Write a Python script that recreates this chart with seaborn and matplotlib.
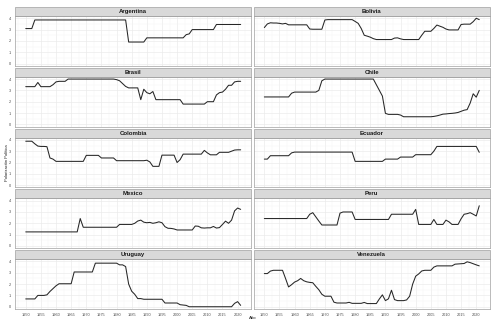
import numpy as np
import pandas as pd
import matplotlib
matplotlib.use('Agg')
import matplotlib.pyplot as plt
import seaborn as sns
from matplotlib.patches import Rectangle
from matplotlib.ticker import MultipleLocator

years = list(range(1950, 2022))
countries = ['Argentina', 'Bolivia', 'Brasil', 'Chile', 'Colombia',
             'Ecuador', 'Mexico', 'Peru', 'Uruguay', 'Venezuela']

argentina = [3.09, 3.09, 3.09,
             3.85, 3.85, 3.85, 3.85, 3.85, 3.85, 3.85, 3.85, 3.85, 3.85,
             3.85, 3.85, 3.85, 3.85, 3.85, 3.85, 3.85, 3.85, 3.85, 3.85,
             3.85, 3.85, 3.85, 3.85, 3.85, 3.85, 3.85, 3.85, 3.85, 3.85, 3.85,
             1.9, 1.9, 1.9, 1.9, 1.9, 1.9,
             2.27, 2.27, 2.27, 2.27, 2.27, 2.27, 2.27, 2.27, 2.27, 2.27, 2.27, 2.27, 2.27,
             2.55, 2.62,
             3.0, 3.0, 3.0, 3.0, 3.0, 3.0, 3.0, 3.0,
             3.45, 3.45, 3.45, 3.45, 3.45, 3.45, 3.45, 3.45, 3.45]

bolivia = [3.18, 3.5, 3.6, 3.58, 3.58, 3.55, 3.5, 3.55, 3.42,
           3.42, 3.42, 3.42, 3.42, 3.42, 3.42,
           3.05, 3.03, 3.03, 3.03, 3.03,
           3.85, 3.88, 3.88, 3.88, 3.88, 3.88, 3.88, 3.88, 3.88, 3.88,
           3.72, 3.55, 3.1, 2.5, 2.42, 2.33, 2.2,
           2.12, 2.12, 2.12, 2.12, 2.12, 2.12,
           2.25, 2.27, 2.18,
           2.12, 2.12, 2.12, 2.12, 2.12, 2.12,
           2.5, 2.85, 2.85, 2.85,
           3.1, 3.4, 3.3, 3.2, 3.05,
           2.97, 2.97, 2.97, 2.97,
           3.45, 3.48, 3.48, 3.48,
           3.7, 4.0, 3.88]

brasil = [3.33, 3.33, 3.33, 3.33, 3.7, 3.33, 3.33, 3.33, 3.33,
          3.5, 3.75, 3.8, 3.8, 3.8,
          4.0, 4.0, 4.0, 4.0, 4.0, 4.0, 4.0, 4.0, 4.0, 4.0, 4.0, 4.0, 4.0, 4.0, 4.0, 4.0,
          3.95, 3.85, 3.6, 3.35,
          3.22, 3.22, 3.22, 3.22,
          2.18, 3.1, 2.8, 2.7, 2.9,
          2.18, 2.18, 2.18, 2.18, 2.18, 2.18, 2.18, 2.18, 2.18,
          1.79, 1.79, 1.79, 1.79, 1.79, 1.79, 1.79, 1.79,
          2.0, 2.0, 2.0,
          2.6, 2.8, 2.85, 3.1, 3.45, 3.45, 3.75, 3.8, 3.8]

chile = [2.42, 2.42, 2.42, 2.42, 2.42, 2.42, 2.42, 2.42, 2.42,
         2.75,
         2.85, 2.85, 2.85, 2.85, 2.85, 2.85, 2.85, 2.85,
         3.0, 3.85,
         4.0, 4.0, 4.0, 4.0, 4.0, 4.0, 4.0, 4.0, 4.0, 4.0, 4.0, 4.0, 4.0, 4.0, 4.0, 4.0, 4.0,
         3.5, 3.0, 2.5,
         0.97, 0.88, 0.88, 0.88, 0.88, 0.82,
         0.67, 0.67, 0.67, 0.67, 0.67, 0.67, 0.67, 0.67, 0.67, 0.67,
         0.7, 0.75, 0.82, 0.9, 0.92, 0.95, 0.97, 1.0, 1.05, 1.15, 1.25, 1.3,
         1.88, 2.7, 2.4, 3.0]

colombia = [3.88, 3.88, 3.88, 3.65, 3.45, 3.42, 3.42, 3.4, 2.4, 2.3,
            2.1, 2.1, 2.1, 2.1, 2.1, 2.1, 2.1, 2.1, 2.1, 2.1,
            2.63, 2.63, 2.63, 2.63, 2.63,
            2.4, 2.4, 2.4, 2.4, 2.4,
            2.16, 2.16, 2.16, 2.16, 2.16, 2.16, 2.16, 2.16, 2.16, 2.16, 2.2,
            2.05, 1.66, 1.66, 1.66,
            2.65, 2.65, 2.65, 2.65, 2.65,
            2.0, 2.25,
            2.74, 2.74, 2.74, 2.74, 2.74, 2.74, 2.74,
            3.07, 2.85, 2.68, 2.68, 2.68,
            2.9, 2.9, 2.9, 2.9,
            3.0, 3.1, 3.12, 3.12]

ecuador = [2.3, 2.3,
           2.6, 2.6, 2.6, 2.6, 2.6, 2.6, 2.6,
           2.85,
           2.92, 2.92, 2.92, 2.92, 2.92, 2.92, 2.92, 2.92, 2.92, 2.92,
           2.92, 2.92, 2.92, 2.92, 2.92, 2.92, 2.92, 2.92, 2.92, 2.92,
           2.1, 2.1, 2.1, 2.1, 2.1, 2.1, 2.1, 2.1, 2.1, 2.1,
           2.3, 2.3, 2.3, 2.3, 2.3,
           2.48, 2.48, 2.48, 2.48, 2.48,
           2.69, 2.69, 2.69, 2.69, 2.69, 2.69,
           3.0,
           3.42, 3.42, 3.42, 3.42, 3.42, 3.42, 3.42, 3.42, 3.42, 3.42, 3.42, 3.42, 3.42, 3.42,
           2.9]

mexico = [1.24, 1.24, 1.24, 1.24, 1.24, 1.24, 1.24, 1.24, 1.24,
          1.24, 1.24, 1.24, 1.24, 1.24, 1.24, 1.24, 1.24, 1.24,
          2.42,
          1.65, 1.65, 1.65, 1.65, 1.65, 1.65, 1.65, 1.65, 1.65, 1.65, 1.65, 1.65,
          1.9, 1.9, 1.9, 1.9, 1.9,
          2.0, 2.2, 2.28, 2.1, 2.05, 2.08, 2.0, 2.05, 2.13, 2.05, 1.7, 1.56, 1.55, 1.5,
          1.41, 1.41, 1.41, 1.41, 1.41, 1.41,
          1.76, 1.74, 1.6, 1.58, 1.6, 1.6, 1.72, 1.58, 1.62, 1.9, 2.19, 2.0, 2.28,
          3.1, 3.35, 3.23]

peru = [2.42, 2.42, 2.42, 2.42, 2.42, 2.42, 2.42, 2.42, 2.42, 2.42,
        2.42, 2.42, 2.42, 2.42, 2.42,
        2.8, 2.94, 2.57, 2.2,
        1.85, 1.85, 1.85, 1.85, 1.85, 1.85,
        2.9, 3.0, 3.0, 3.0, 3.0,
        2.34, 2.34, 2.34, 2.34, 2.34, 2.34, 2.34, 2.34, 2.34, 2.34, 2.34, 2.34,
        2.8, 2.8, 2.8, 2.8, 2.8, 2.8, 2.8, 2.8,
        3.23,
        1.9, 1.9, 1.9, 1.9, 1.9,
        2.34, 1.9, 1.9, 1.9,
        2.28, 2.13, 1.9, 1.9, 1.9,
        2.4, 2.8, 2.85, 2.94, 2.8, 2.65, 3.55]

uruguay = [0.69, 0.69, 0.69, 0.69,
           1.0, 1.0, 1.0,
           1.05, 1.35, 1.6, 1.85,
           2.03, 2.03, 2.03, 2.03, 2.03,
           3.07, 3.07, 3.07, 3.07, 3.07, 3.07, 3.07,
           3.85, 3.85, 3.85, 3.85, 3.85, 3.85, 3.85, 3.85,
           3.7, 3.7, 3.55, 2.0, 1.37, 1.1, 0.72, 0.72,
           0.66, 0.66, 0.66, 0.66, 0.66, 0.66, 0.66,
           0.33, 0.33, 0.33, 0.33, 0.33,
           0.18, 0.15, 0.12,
           0.0, 0.0, 0.0, 0.0, 0.0, 0.0, 0.0, 0.0, 0.0, 0.0, 0.0, 0.0, 0.0, 0.0, 0.0,
           0.3, 0.45, 0.12]

venezuela = [2.93, 2.93, 3.15, 3.22, 3.22, 3.22, 3.22,
             2.5, 1.75, 1.95, 2.18, 2.3, 2.5, 2.3, 2.2, 2.15, 2.12, 1.8, 1.5, 1.1,
             0.93, 0.93, 0.93,
             0.4,
             0.33, 0.33, 0.33, 0.33,
             0.39,
             0.3, 0.3, 0.3, 0.3,
             0.38,
             0.28, 0.28, 0.28, 0.28,
             0.69, 1.05, 0.54, 0.7, 1.46, 0.63, 0.54, 0.54, 0.54, 0.6, 0.93,
             2.0, 2.7, 2.9, 3.16, 3.22, 3.22, 3.22, 3.5,
             3.61, 3.61, 3.61, 3.61, 3.61, 3.61,
             3.76, 3.78, 3.8, 3.82, 3.97, 3.9, 3.8, 3.7, 3.61]

series = [argentina, bolivia, brasil, chile, colombia,
          ecuador, mexico, peru, uruguay, venezuela]

rows = []
for name, vals in zip(countries, series):
    for yr, v in zip(years, vals):
        rows.append((name, yr, v))
df = pd.DataFrame(rows, columns=['country', 'year', 'value'])

sns.set_theme(style='white')
plt.rcParams['font.family'] = ['Liberation Sans', 'DejaVu Sans']

W, H = 493, 322
fig, axes = plt.subplots(5, 2, figsize=(W / 100, H / 100), dpi=100,
                         sharex=True, sharey=True)
panel_h = 49.8
strip_h = 9.0
fig.subplots_adjust(left=15 / W, right=490 / W, top=1 - 16 / H, bottom=1 - 309 / H,
                    wspace=0.0093, hspace=(strip_h + 2) / panel_h)

for i, (ax, name) in enumerate(zip(axes.flat, countries)):
    sub = df[df['country'] == name]
    sns.lineplot(data=sub, x='year', y='value', ax=ax, color='#262626',
                 linewidth=0.75)
    ax.set_xlim(1950 - 0.05 * 71, 2021 + 0.05 * 71)
    ax.set_ylim(-0.2, 4.2)
    ax.xaxis.set_major_locator(MultipleLocator(5))
    ax.xaxis.set_minor_locator(MultipleLocator(2.5))
    ax.yaxis.set_major_locator(MultipleLocator(1))
    ax.yaxis.set_minor_locator(MultipleLocator(0.5))
    ax.grid(which='major', color='#EBEBEB', linewidth=0.5)
    ax.grid(which='minor', color='#F3F3F3', linewidth=0.3)
    ax.set_axisbelow(True)
    ax.set_xlabel('')
    ax.set_ylabel('')
    for s in ax.spines.values():
        s.set_color('#A0A0A0')
        s.set_linewidth(0.5)
    ax.tick_params(which='major', length=1.5, width=0.4, color='#444444',
                   labelsize=2.8, labelcolor='#4D4D4D', pad=1.2)
    ax.tick_params(which='minor', length=0)
    r, c = divmod(i, 2)
    if r < 4:
        ax.tick_params(axis='x', which='major', length=0)
    if c == 1:
        ax.tick_params(axis='y', which='major', length=0)
    rect = Rectangle((0, 1), 1, strip_h / panel_h, transform=ax.transAxes,
                     clip_on=False, facecolor='#D9D9D9', edgecolor='#A0A0A0',
                     linewidth=0.5)
    ax.add_patch(rect)
    ax.text(0.5, 1 + (strip_h / 2) / panel_h, name, transform=ax.transAxes,
            ha='center', va='center', fontsize=4.3, fontweight='bold',
            color='#1A1A1A')

fig.text(252.5 / W, 1 - 318 / H, 'Año', ha='center', va='center', fontsize=3.2,
         color='#1A1A1A')
fig.text(7.5 / W, 1 - 162.5 / H, 'Polarización Política', rotation=90,
         ha='center', va='center', fontsize=3.0, color='#1A1A1A')

fig.savefig('out.png', dpi=100)
